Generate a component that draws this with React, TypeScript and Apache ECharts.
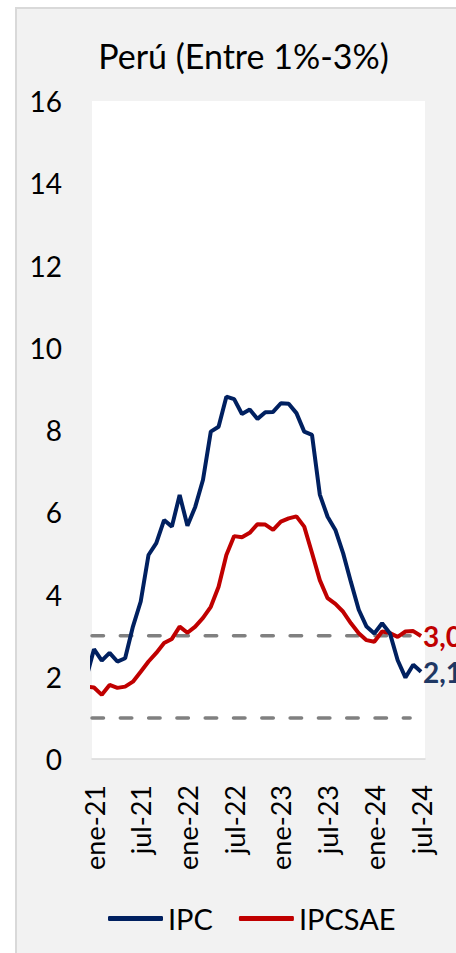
import React, { useEffect, useRef } from "react";
import * as echarts from "echarts";

// Monthly categories (dic-20 is only partly visible at the left edge)
const months = [
  "dic-20",
  "ene-21", "feb-21", "mar-21", "abr-21", "may-21", "jun-21", "jul-21", "ago-21", "sep-21", "oct-21", "nov-21", "dic-21",
  "ene-22", "feb-22", "mar-22", "abr-22", "may-22", "jun-22", "jul-22", "ago-22", "sep-22", "oct-22", "nov-22", "dic-22",
  "ene-23", "feb-23", "mar-23", "abr-23", "may-23", "jun-23", "jul-23", "ago-23", "sep-23", "oct-23", "nov-23", "dic-23",
  "ene-24", "feb-24", "mar-24", "abr-24", "may-24", "jun-24", "jul-24",
];

const ipc = [
  1.97,
  2.67, 2.39, 2.58, 2.37, 2.45, 3.22, 3.83, 4.96, 5.25, 5.81, 5.65, 6.42,
  5.67, 6.13, 6.79, 7.96, 8.08, 8.81, 8.75, 8.39, 8.5, 8.27, 8.43, 8.44,
  8.65, 8.64, 8.41, 7.96, 7.88, 6.43, 5.89, 5.57, 5.0, 4.3, 3.63, 3.22,
  3.05, 3.3, 3.06, 2.4, 1.98, 2.29, 2.12,
];

const ipcsae = [
  1.76,
  1.74, 1.56, 1.8, 1.73, 1.76, 1.88, 2.12, 2.37, 2.58, 2.82, 2.92, 3.22,
  3.07, 3.22, 3.43, 3.7, 4.19, 4.96, 5.42, 5.39, 5.5, 5.71, 5.7, 5.57,
  5.77, 5.85, 5.9, 5.65, 5.01, 4.35, 3.91, 3.77, 3.58, 3.3, 3.06, 2.89,
  2.85, 3.1, 3.06, 2.97, 3.1, 3.11, 2.99,
];

const targetLow = 1;
const targetHigh = 3;
const targetEnd = 41.6; // month index where the target lines stop

const xMin = 0.743;
const xMax = 43.51;
const yMin = 0;
const yMax = 16;
const yInterval = 2;

const labelMonths = months
  .map((m, i) => (m.startsWith("ene") || m.startsWith("jul") ? i : -1))
  .filter((i) => i >= 0);

const FONT = "Lato";

export default function App() {
  const ref = useRef<HTMLDivElement>(null);

  useEffect(() => {
    if (!ref.current) return;
    const chart = echarts.init(ref.current, null, { renderer: "svg" });

    const fmt = (p: any) => {
      const v = Array.isArray(p.value) ? p.value[1] : p.value;
      return Number(v).toFixed(1).replace(".", ",");
    };

    const targetLine = (name: string, v: number) => ({
      name,
      type: "line",
      data: [
        [xMin, v],
        [targetEnd, v],
      ],
      showSymbol: false,
      silent: true,
      z: 1,
      lineStyle: {
        color: "#808080",
        width: 3.5,
        type: [11.5, 16.8],
        cap: "round",
      },
    });

    chart.setOption({
      animation: false,
      textStyle: { fontFamily: FONT },
      grid: {
        left: 92,
        right: 31,
        top: 101,
        bottom: 194,
        show: true,
        backgroundColor: "#ffffff",
        borderWidth: 0,
      },
      graphic: [
        {
          type: "text",
          x: 243.5,
          y: 55,
          style: {
            text: "Perú (Entre 1%-3%)",
            fontFamily: FONT,
            fontSize: 34,
            fill: "#000",
            textAlign: "center",
            textVerticalAlign: "middle",
          },
        },
      ],
      legend: {
        data: ["IPC", "IPCSAE"],
        left: 103,
        top: 899,
        icon: "roundRect",
        itemWidth: 55,
        itemHeight: 5,
        itemGap: 26,
        textStyle: { fontFamily: FONT, fontSize: 29, color: "#000", lineHeight: 28 },
      },
      xAxis: {
        type: "value",
        min: xMin,
        max: xMax,
        axisLine: { show: true, lineStyle: { color: "#d9d9d9", width: 1.5 } },
        axisTick: { show: false },
        splitLine: { show: false },
        axisLabel: {
          customValues: labelMonths,
          formatter: (v: number) => months[Math.round(v)],
          rotate: 90,
          fontFamily: FONT,
          fontSize: 27,
          color: "#000",
          margin: 26,
        },
      },
      yAxis: {
        type: "value",
        min: yMin,
        max: yMax,
        interval: yInterval,
        axisLine: { show: false },
        axisTick: { show: false },
        splitLine: { show: false },
        axisLabel: { fontFamily: FONT, fontSize: 28, color: "#000", margin: 30 },
      },
      series: [
        targetLine("meta-baja", targetLow),
        targetLine("meta-alta", targetHigh),
        {
          name: "IPCSAE",
          type: "line",
          data: ipcsae.map((v, i) => [i, v]),
          showSymbol: false,
          z: 3,
          lineStyle: { color: "#C00000", width: 4 },
          itemStyle: { color: "#C00000" },
          endLabel: {
            show: true,
            formatter: fmt,
            fontFamily: FONT,
            fontSize: 28,
            fontWeight: "bold",
            color: "#C00000",
            distance: 2,
          },
        },
        {
          name: "IPC",
          type: "line",
          data: ipc.map((v, i) => [i, v]),
          showSymbol: false,
          z: 4,
          lineStyle: { color: "#002060", width: 4 },
          itemStyle: { color: "#002060" },
          endLabel: {
            show: true,
            formatter: fmt,
            fontFamily: FONT,
            fontSize: 28,
            fontWeight: "bold",
            color: "#1F3864",
            distance: 2,
          },
        },
      ],
    });

    return () => chart.dispose();
  }, []);

  return (
    <div
      style={{
        position: "fixed",
        left: 0,
        top: 0,
        width: 456,
        height: 953,
        background: "#ffffff",
        overflow: "hidden",
      }}
    >
      <div
        style={{
          position: "absolute",
          left: 15,
          top: 7,
          width: 460,
          height: 960,
          background: "#f2f2f2",
          borderLeft: "2px solid #d9d9d9",
          borderTop: "2px solid #d9d9d9",
        }}
      />
      <div
        ref={ref}
        style={{ position: "absolute", left: 0, top: 0, width: 456, height: 953 }}
      />
    </div>
  );
}
